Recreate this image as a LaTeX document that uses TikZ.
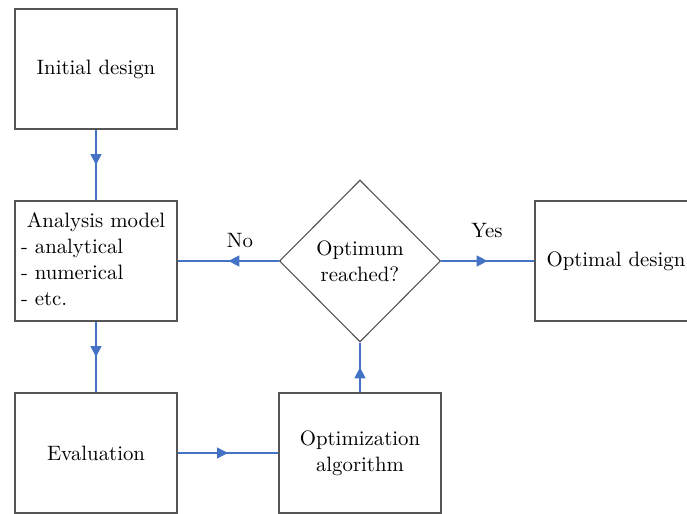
\documentclass[tikz,border=0pt]{standalone}
\usetikzlibrary{shapes.geometric,arrows.meta,decorations.markings}
\definecolor{boxline}{HTML}{555555}
\definecolor{flowblue}{HTML}{4472C4}
\tikzset{
  stepbox/.style={draw=boxline, line width=0.8pt, rectangle, inner sep=2pt,
    minimum width=81pt, minimum height=60pt, align=center},
  decision/.style={draw=boxline, line width=0.55pt, diamond, aspect=1, inner sep=0pt,
    minimum width=80.5pt, minimum height=81pt, align=center},
  flow/.style={draw=flowblue, line width=0.7pt,
    postaction={decorate},
    decoration={markings, mark=at position 0.5 with
      {\arrow[flowblue]{Triangle[length=5.5pt,width=5.5pt]}}}},
  lbl/.style={inner sep=0pt}
}
\begin{document}
\begin{tikzpicture}[x=0.5pt, y=-0.5pt, font=\fontsize{10.4}{13}\selectfont]
  \useasboundingbox (0,0) rectangle (687,514);
  \clip (0,0) rectangle (687,514);

  % process steps
  \node[stepbox] (init) at (96,69) {Initial design};
  \node[stepbox, inner sep=2.5pt] (model) at (96,261) {%
    \begin{tabular}{@{}p{75pt}@{}}
      \multicolumn{1}{@{}c@{}}{Analysis model}\\
      - analytical\\
      - numerical\\
      - etc.
    \end{tabular}};
  \node[stepbox] (eval) at (96,453) {Evaluation};
  \node[stepbox] (algo) at (360,453) {Optimization\\algorithm};
  \node[decision] (check) at (360,261) {Optimum\\reached?};
  \node[stepbox] (final) at (616,261) {Optimal design};

  % branch labels
  \node[lbl] (no) at (240,241) {No};
  \node[lbl] (yes) at (487,231) {Yes};

  % connectors
  \path[flow] (init.south) -- (model.north);
  \path[flow] (model.south) -- (eval.north);
  \path[flow] (eval.east) -- (algo.west);
  \path[flow] (algo.north) -- (check.south);
  \path[flow] (check.west) -- (model.east);
  \path[flow] (check.east) -- (final.west);
\end{tikzpicture}
\end{document}
